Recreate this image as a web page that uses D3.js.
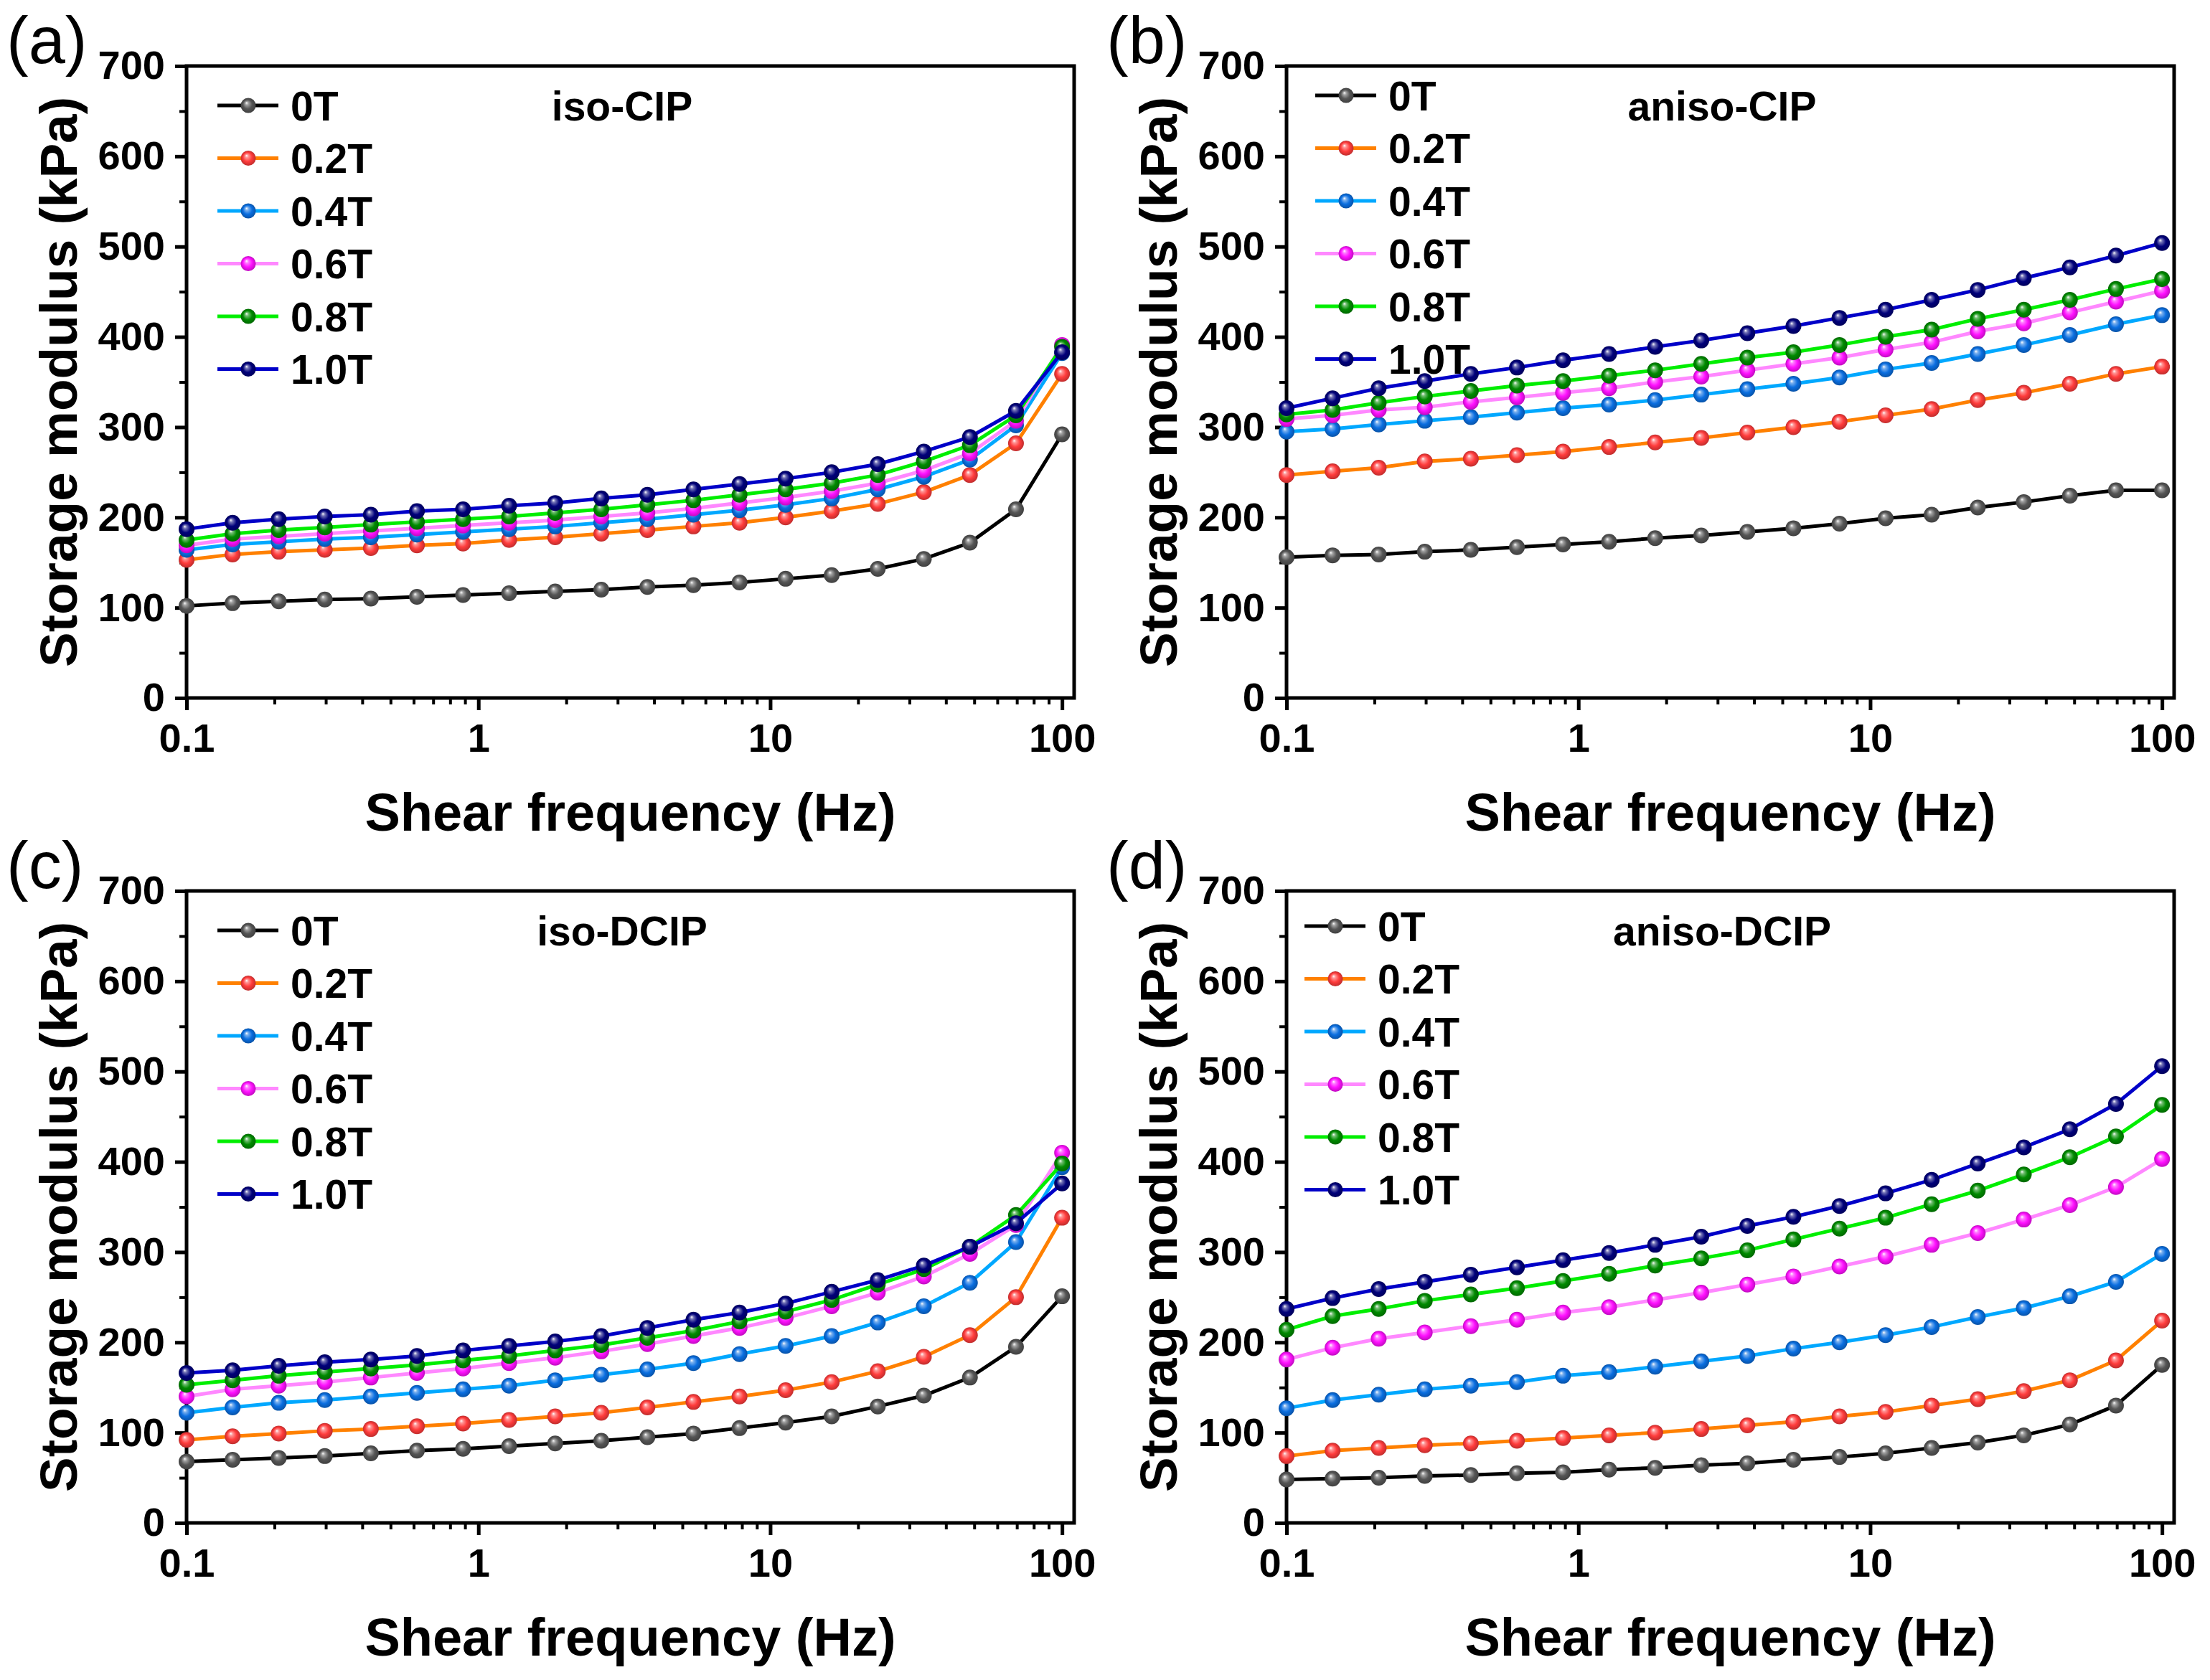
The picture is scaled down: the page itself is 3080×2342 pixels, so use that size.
<!DOCTYPE html>
<html>
<head>
<meta charset="UTF-8" />
<title>Storage modulus vs shear frequency</title>
<script src="https://cdn.jsdelivr.net/npm/d3@7"></script>
<style>
	body { margin: 0; background: #fff; }
	text { font-family: "Liberation Sans", Arial, sans-serif; fill: #000; }
</style>
</head>
<body>
<svg id="fig"></svg>
<script>
// shear frequency (Hz), 20 points per sweep
var freq = [0.1, 0.1438, 0.2069, 0.2976, 0.4281, 0.6158, 0.8859, 1.274, 1.833, 2.637,
	3.793, 5.456, 7.848, 11.29, 16.24, 23.36, 33.6, 48.33, 69.52, 100];
var fields = ["0T", "0.2T", "0.4T", "0.6T", "0.8T", "1.0T"];
var xTicks = [0.1, 1, 10, 100];
var yTicks = [0, 100, 200, 300, 400, 500, 600, 700];

// storage modulus (kPa), one row per field
var isoCIP = [
	[102, 105, 107, 109, 110, 112, 114, 116, 118, 120, 123, 125, 128, 132, 136, 143, 154, 172, 209, 292],
	[153, 159, 162, 164, 166, 169, 171, 175, 178, 182, 186, 190, 194, 200, 207, 215, 228, 247, 282, 359],
	[164, 170, 173, 176, 178, 181, 184, 187, 190, 194, 198, 203, 208, 214, 221, 231, 245, 264, 302, 382],
	[169, 176, 179, 182, 185, 188, 191, 194, 197, 201, 205, 210, 216, 222, 229, 238, 252, 271, 307, 391],
	[175, 182, 186, 189, 192, 195, 198, 201, 205, 209, 214, 219, 225, 231, 238, 247, 262, 280, 313, 389],
	[187, 194, 198, 201, 203, 207, 209, 213, 216, 221, 225, 231, 237, 243, 250, 259, 273, 289, 318, 383]
];
var anisoCIP = [
	[156, 158, 159, 162, 164, 167, 170, 173, 177, 180, 184, 188, 193, 199, 203, 211, 217, 224, 230, 230],
	[247, 251, 255, 262, 265, 269, 273, 278, 283, 288, 294, 300, 306, 313, 320, 330, 338, 348, 359, 367],
	[295, 298, 303, 307, 311, 316, 321, 325, 330, 336, 342, 348, 355, 364, 371, 381, 391, 402, 414, 424],
	[309, 313, 319, 322, 328, 333, 338, 343, 350, 356, 363, 370, 377, 386, 394, 406, 415, 427, 439, 451],
	[314, 319, 327, 334, 340, 346, 351, 357, 363, 370, 377, 383, 391, 400, 408, 420, 430, 441, 453, 464],
	[321, 332, 343, 351, 359, 366, 374, 381, 389, 396, 404, 412, 421, 430, 441, 452, 465, 477, 490, 504]
];
var isoDCIP = [
	[68, 70, 72, 74, 77, 80, 82, 85, 88, 91, 95, 99, 105, 111, 118, 129, 141, 161, 195, 251],
	[92, 96, 99, 102, 104, 107, 110, 114, 118, 122, 128, 134, 140, 147, 156, 168, 184, 208, 250, 338],
	[122, 128, 133, 136, 140, 144, 148, 152, 158, 164, 170, 177, 187, 196, 207, 222, 240, 266, 311, 394],
	[140, 148, 152, 156, 161, 166, 171, 177, 183, 190, 198, 207, 216, 227, 240, 255, 273, 298, 330, 410],
	[153, 158, 163, 167, 171, 175, 180, 185, 191, 197, 205, 213, 223, 234, 247, 264, 281, 306, 341, 398],
	[166, 169, 174, 178, 181, 185, 191, 196, 201, 207, 216, 225, 233, 243, 256, 269, 285, 306, 332, 376]
];
var anisoDCIP = [
	[48, 49, 50, 52, 53, 55, 56, 59, 61, 64, 66, 70, 73, 77, 83, 89, 97, 109, 130, 175],
	[74, 80, 83, 86, 88, 91, 94, 97, 100, 104, 108, 112, 118, 123, 130, 137, 146, 158, 180, 224],
	[127, 136, 142, 148, 152, 156, 163, 167, 173, 179, 185, 193, 200, 208, 217, 228, 238, 251, 267, 298],
	[181, 194, 204, 211, 218, 225, 233, 239, 247, 255, 264, 273, 284, 295, 308, 321, 336, 352, 372, 403],
	[214, 229, 237, 246, 253, 260, 268, 276, 285, 293, 302, 314, 326, 338, 353, 368, 386, 405, 428, 463],
	[237, 249, 259, 267, 275, 283, 291, 299, 308, 317, 329, 339, 351, 365, 380, 398, 416, 436, 464, 506]
];

var lineColors = ["#000000", "#ff8000", "#00a8ff", "#ff88ff", "#00ee00", "#0000c8"];
var ballColors = ["#555555", "#ff3c3c", "#0a6ee0", "#ff10ff", "#008a00", "#00007a"];

var panels = [
	{ tag: "(a)", name: "iso-CIP", data: isoCIP, col: 0, row: 0, lx: 43, ly: 55 },
	{ tag: "(b)", name: "aniso-CIP", data: anisoCIP, col: 1, row: 0, lx: 40, ly: 41 },
	{ tag: "(c)", name: "iso-DCIP", data: isoDCIP, col: 0, row: 1, lx: 43, ly: 55 },
	{ tag: "(d)", name: "aniso-DCIP", data: anisoDCIP, col: 1, row: 1, lx: 25, ly: 49 }
];

var W = 3080, H = 2342;
var pw = 1237, ph = 881, left0 = 260, top0 = 92, colStep = 1533, rowStep = 1150;

var xMinor = [];
[0.1, 1, 10].forEach(function (d) {
	for (var k = 2; k < 10; k++) xMinor.push(d * k);
});
var yMinor = [50, 150, 250, 350, 450, 550, 650];

var svg = d3.select("#fig").attr("width", W).attr("height", H);

var defs = svg.append("defs");
ballColors.forEach(function (c, i) {
	var grad = defs.append("radialGradient").attr("id", "ball" + i)
		.attr("cx", "50%").attr("cy", "50%").attr("r", "50%")
		.attr("fx", "38%").attr("fy", "32%");
	grad.append("stop").attr("offset", "0%").attr("stop-color", "#ffffff");
	grad.append("stop").attr("offset", "22%").attr("stop-color", d3.interpolateRgb(c, "#ffffff")(0.45));
	grad.append("stop").attr("offset", "60%").attr("stop-color", c);
	grad.append("stop").attr("offset", "100%").attr("stop-color", d3.color(c).darker(0.8));
});

// the frame runs a little past 100 Hz on the right
var x = d3.scaleLog().domain([0.1, 110]).range([0, pw]);
var y = d3.scaleLinear().domain([0, 700]).range([ph, 0]);
var line = d3.line()
	.x(function (d, i) { return x(freq[i]); })
	.y(function (d) { return y(d); });

function styleAxis(sel, width) {
	sel.select(".domain").remove();
	sel.selectAll(".tick line").attr("stroke", "#000").attr("stroke-width", width);
	sel.selectAll(".tick text")
		.style("font-size", "56px").style("font-weight", "bold")
		.style("font-family", "'Liberation Sans', Arial, sans-serif").attr("fill", "#000");
}

panels.forEach(function (p) {
	var g = svg.append("g")
		.attr("transform", "translate(" + (left0 + p.col * colStep) + "," + (top0 + p.row * rowStep) + ")");

	// axes: minor ticks first, then labelled major ticks
	g.append("g").attr("transform", "translate(0," + ph + ")")
		.call(d3.axisBottom(x).tickValues(xMinor).tickSize(9).tickFormat(""))
		.call(styleAxis, 4);
	g.append("g").attr("transform", "translate(0," + ph + ")")
		.call(d3.axisBottom(x).tickValues(xTicks).tickSize(17).tickPadding(18).tickFormat(d3.format("~g")))
		.call(styleAxis, 5);
	g.append("g")
		.call(d3.axisLeft(y).tickValues(yMinor).tickSize(10).tickFormat(""))
		.call(styleAxis, 4);
	g.append("g")
		.call(d3.axisLeft(y).tickValues(yTicks).tickSize(16).tickPadding(14))
		.call(styleAxis, 5);

	g.append("rect").attr("width", pw).attr("height", ph)
		.attr("fill", "none").attr("stroke", "#000").attr("stroke-width", 5);

	// series
	p.data.forEach(function (vals, k) {
		g.append("path").datum(vals)
			.attr("d", line).attr("fill", "none")
			.attr("stroke", lineColors[k]).attr("stroke-width", 5);
		g.append("g").selectAll("circle").data(vals).enter()
			.append("circle")
			.attr("cx", function (d, i) { return x(freq[i]); })
			.attr("cy", function (d) { return y(d); })
			.attr("r", 11)
			.attr("fill", "url(#ball" + k + ")");
	});

	// legend
	var lg = g.append("g").attr("transform", "translate(" + p.lx + "," + p.ly + ")");
	fields.forEach(function (f, k) {
		var row = lg.append("g").attr("transform", "translate(0," + (k * 73.5) + ")");
		row.append("line").attr("x1", 0).attr("x2", 85)
			.attr("stroke", lineColors[k]).attr("stroke-width", 5);
		row.append("circle").attr("cx", 43).attr("r", 10.5).attr("fill", "url(#ball" + k + ")");
		row.append("text").attr("x", 102).attr("dy", "0.36em")
			.style("font-size", "57px").style("font-weight", "bold").text(f);
	});

	g.append("text").attr("x", 607).attr("y", 76).attr("text-anchor", "middle")
		.style("font-size", "57px").style("font-weight", "bold").text(p.name);

	g.append("text").attr("x", -251).attr("y", -4)
		.style("font-size", "92px").text(p.tag);

	g.append("text")
		.attr("transform", "translate(-153," + (ph / 2) + ") rotate(-90)")
		.attr("text-anchor", "middle")
		.style("font-size", "73px").style("font-weight", "bold")
		.text("Storage modulus (kPa)");

	g.append("text").attr("x", pw / 2).attr("y", ph + 185).attr("text-anchor", "middle")
		.style("font-size", "74px").style("font-weight", "bold")
		.text("Shear frequency (Hz)");
});
</script>
</body>
</html>
